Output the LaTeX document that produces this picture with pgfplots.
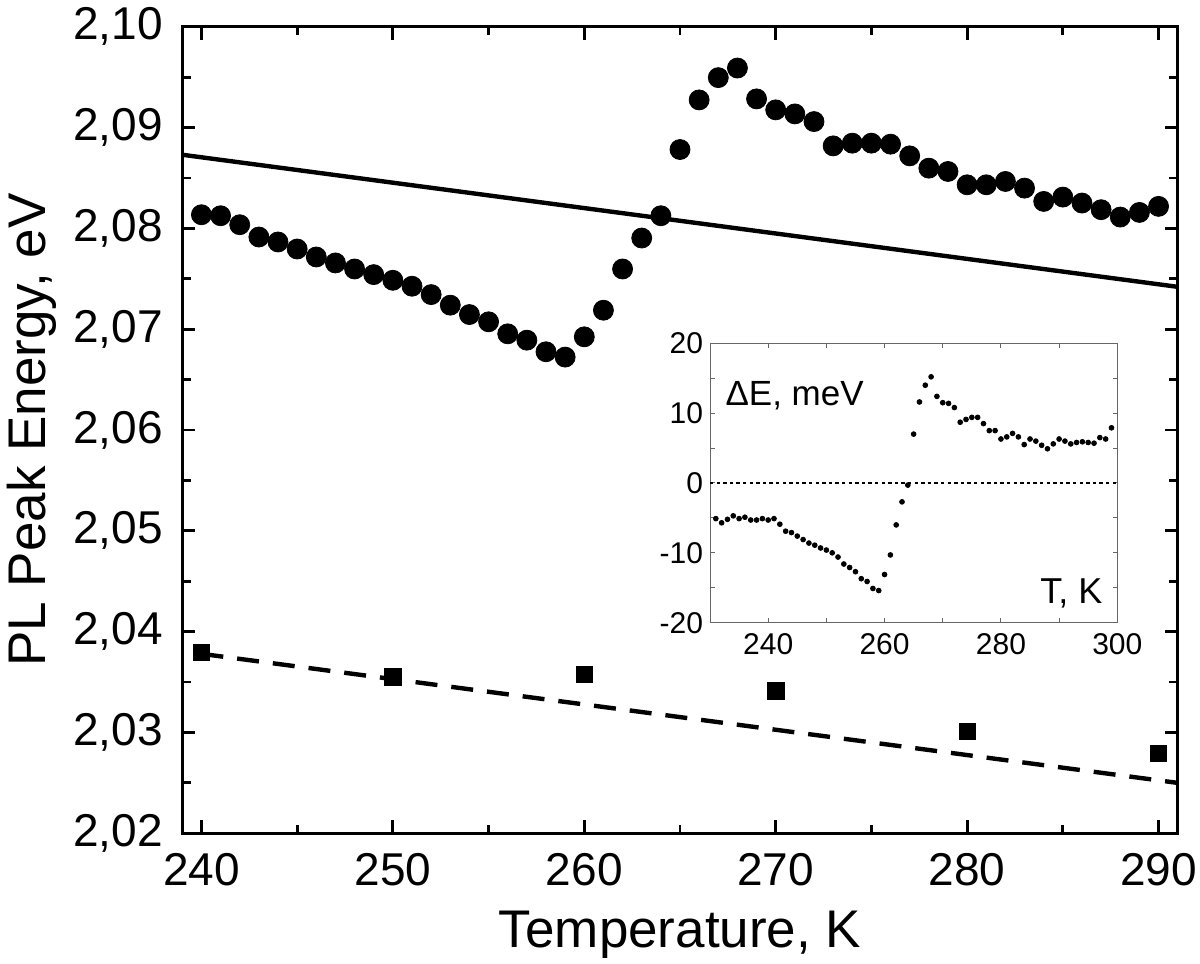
\documentclass[border=0pt]{standalone}
\usepackage{pgfplots}
\pgfplotsset{compat=1.18}
\usepackage{fontspec}
\setmainfont{Liberation Sans}
\usetikzlibrary{calc}

\begin{document}
\begin{tikzpicture}
\begin{axis}[name=main, scale only axis, width=497.7pt, height=403.3pt,
  xmin=239, xmax=291, ymin=2.02, ymax=2.10,
  xtick={240,250,260,270,280,290}, minor x tick num=1,
  ytick={2.02,2.03,2.04,2.05,2.06,2.07,2.08,2.09,2.10}, minor y tick num=1,
  tick align=inside, major tick length=6.5pt, minor tick length=4.3pt,
  axis line style={line width=1.4pt, black},
  every tick/.style={line width=1.4pt, black},
  tick label style={font=\fontsize{23}{27}\selectfont, /pgf/number format/assume math mode=true},
  xticklabel style={inner sep=0pt, yshift=-10pt},
  yticklabel style={inner sep=0pt, xshift=-9.5pt, /pgf/number format/.cd, fixed, fixed zerofill, precision=2, use comma, assume math mode=true},
  xlabel={Temperature, K}, ylabel={PL Peak Energy, eV},
  label style={font=\fontsize{26.5}{31}\selectfont},
  xlabel style={at={(axis description cs:0.5,-0.1422)}, anchor=base, inner sep=0pt},
  ylabel style={at={(axis description cs:-0.1379,0.5)}, anchor=base, inner sep=0pt},
]
\addplot[black, line width=2.2pt, no marks] coordinates {(239,2.0873) (291,2.0742)};
\addplot[black, line width=2.2pt, no marks, dash pattern=on 11pt off 7pt] coordinates {(240,2.0378) (291,2.0250)};
\addplot[only marks, mark=*, mark size=5pt, black] coordinates {
(240,2.08135) (241,2.08125) (242,2.08036) (243,2.07914) (244,2.07865)
(245,2.07795) (246,2.07716) (247,2.07657) (248,2.07597) (249,2.07541)
(250,2.07485) (251,2.07426) (252,2.07343) (253,2.07238) (254,2.07145)
(255,2.07073) (256,2.06954) (257,2.06891) (258,2.06776) (259,2.06723)
(260,2.06924) (261,2.07188) (262,2.07597) (263,2.07904) (264,2.08125)
(265,2.08782) (266,2.09274) (267,2.09495) (268,2.09590) (269,2.09284)
(270,2.09175) (271,2.09135) (272,2.09059) (273,2.08818) (274,2.08845)
(275,2.08845) (276,2.08835) (277,2.08719) (278,2.08597) (279,2.08564)
(280,2.08432) (281,2.08432) (282,2.08465) (283,2.08399) (284,2.08267)
(285,2.08310) (286,2.08251) (287,2.08185) (288,2.08112) (289,2.08158)
(290,2.08218)};
\addplot[only marks, mark=square*, mark size=4.1pt, black] coordinates {
(240,2.03792) (250,2.03551) (260,2.03578) (270,2.03413) (280,2.03010) (290,2.02792)};
\end{axis}

\begin{axis}[name=inset, at={($(main.south west)+(263.85pt,105.3pt)$)}, anchor=south west,
  scale only axis, width=203.65pt, height=139.7pt,
  xmin=230, xmax=300, ymin=-20, ymax=20,
  xtick={240,260,280,300}, ytick={-20,-10,0,10,20},
  minor x tick num=1, minor y tick num=1,
  tick align=inside, major tick length=2.4pt, minor tick length=2.4pt,
  axis line style={line width=0.5pt, black!60},
  every tick/.style={black!60, line width=0.5pt},
  tick label style={font=\fontsize{15}{18}\selectfont, /pgf/number format/assume math mode=true},
  xticklabel style={inner sep=0pt, yshift=-5pt},
  yticklabel style={inner sep=0pt, xshift=-3.3pt},
]
\addplot[black, line width=0.6pt, dash pattern=on 1.7pt off 1.6pt, no marks] coordinates {(230,0) (300,0)};
\addplot[only marks, mark=*, mark size=1.2pt, black] coordinates {
(231,-5.1) (232,-5.7) (233,-5.2) (234,-4.7) (235,-5.1) (236,-4.9) (237,-5.3) (238,-5.3) (239,-5.1) (240,-5.3)
(241,-5.1) (242,-5.9) (243,-6.9) (244,-7.1) (245,-7.6) (246,-8.1) (247,-8.6) (248,-8.9) (249,-9.3) (250,-9.6)
(251,-10.0) (252,-10.6) (253,-11.6) (254,-12.1) (255,-12.7) (256,-13.7) (257,-14.1) (258,-15.1) (259,-15.4) (260,-13.1)
(261,-10.3) (262,-6.0) (263,-2.7) (264,-0.3) (265,7.0) (266,11.6) (267,14.0) (268,15.2) (269,12.4) (270,11.5)
(271,11.4) (272,10.8) (273,8.7) (274,9.1) (275,9.4) (276,9.4) (277,8.5) (278,7.5) (279,7.5) (280,6.3)
(281,6.6) (282,7.1) (283,6.6) (284,5.5) (285,6.3) (286,6.0) (287,5.4) (288,4.9) (289,5.6) (290,6.3)
(291,6.0) (292,5.6) (293,5.8) (294,5.9) (295,5.8) (296,5.7) (297,6.5) (298,6.3) (299,7.9)};
\node[anchor=base west, font=\fontsize{17.5}{21}\selectfont, inner sep=0pt] at (axis cs:232.6,11.07) {ΔE, meV};
\node[anchor=base east, font=\fontsize{18}{21}\selectfont, inner sep=0pt] at (axis cs:297.5,-17.2) {T, K};
\end{axis}
\path (main.south west) +(-91.15pt,-65.35pt) rectangle +(508.85pt,416.65pt);
\end{tikzpicture}
\end{document}
